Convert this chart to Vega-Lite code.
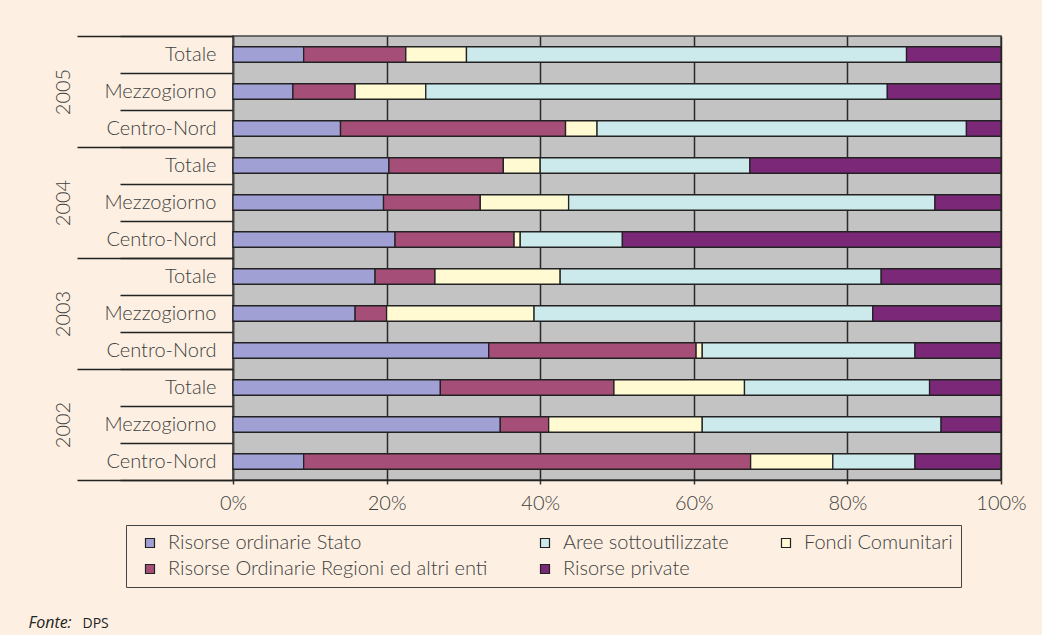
{
  "$schema": "https://vega.github.io/schema/vega-lite/v6.json",
  "width": 768,
  "height": 444,
  "autosize": {"type": "none"},
  "padding": {"left": 233, "top": 36, "right": 41, "bottom": 155},
  "background": "#fdf0e2",
  "config": {
    "view": {"fill": "#c3c3c3", "stroke": "#444", "strokeWidth": 1.5},
    "font": "Lato"
  },
  "data": {
    "values": [
      {"anno": "2005", "riga": "2005|Totale", "serie": "Risorse ordinarie Stato", "ord": 1, "v": 9.2},
      {"anno": "2005", "riga": "2005|Totale", "serie": "Risorse Ordinarie Regioni ed altri enti", "ord": 2, "v": 13.3},
      {"anno": "2005", "riga": "2005|Totale", "serie": "Fondi Comunitari", "ord": 3, "v": 7.9},
      {"anno": "2005", "riga": "2005|Totale", "serie": "Aree sottoutilizzate", "ord": 4, "v": 57.3},
      {"anno": "2005", "riga": "2005|Totale", "serie": "Risorse private", "ord": 5, "v": 12.3},
      {"anno": "2005", "riga": "2005|Mezzogiorno", "serie": "Risorse ordinarie Stato", "ord": 1, "v": 7.8},
      {"anno": "2005", "riga": "2005|Mezzogiorno", "serie": "Risorse Ordinarie Regioni ed altri enti", "ord": 2, "v": 8.1},
      {"anno": "2005", "riga": "2005|Mezzogiorno", "serie": "Fondi Comunitari", "ord": 3, "v": 9.2},
      {"anno": "2005", "riga": "2005|Mezzogiorno", "serie": "Aree sottoutilizzate", "ord": 4, "v": 60.1},
      {"anno": "2005", "riga": "2005|Mezzogiorno", "serie": "Risorse private", "ord": 5, "v": 14.8},
      {"anno": "2005", "riga": "2005|Centro-Nord", "serie": "Risorse ordinarie Stato", "ord": 1, "v": 14.0},
      {"anno": "2005", "riga": "2005|Centro-Nord", "serie": "Risorse Ordinarie Regioni ed altri enti", "ord": 2, "v": 29.3},
      {"anno": "2005", "riga": "2005|Centro-Nord", "serie": "Fondi Comunitari", "ord": 3, "v": 4.1},
      {"anno": "2005", "riga": "2005|Centro-Nord", "serie": "Aree sottoutilizzate", "ord": 4, "v": 48.1},
      {"anno": "2005", "riga": "2005|Centro-Nord", "serie": "Risorse private", "ord": 5, "v": 4.5},
      {"anno": "2004", "riga": "2004|Totale", "serie": "Risorse ordinarie Stato", "ord": 1, "v": 20.3},
      {"anno": "2004", "riga": "2004|Totale", "serie": "Risorse Ordinarie Regioni ed altri enti", "ord": 2, "v": 14.9},
      {"anno": "2004", "riga": "2004|Totale", "serie": "Fondi Comunitari", "ord": 3, "v": 4.8},
      {"anno": "2004", "riga": "2004|Totale", "serie": "Aree sottoutilizzate", "ord": 4, "v": 27.3},
      {"anno": "2004", "riga": "2004|Totale", "serie": "Risorse private", "ord": 5, "v": 32.7},
      {"anno": "2004", "riga": "2004|Mezzogiorno", "serie": "Risorse ordinarie Stato", "ord": 1, "v": 19.6},
      {"anno": "2004", "riga": "2004|Mezzogiorno", "serie": "Risorse Ordinarie Regioni ed altri enti", "ord": 2, "v": 12.6},
      {"anno": "2004", "riga": "2004|Mezzogiorno", "serie": "Fondi Comunitari", "ord": 3, "v": 11.5},
      {"anno": "2004", "riga": "2004|Mezzogiorno", "serie": "Aree sottoutilizzate", "ord": 4, "v": 47.7},
      {"anno": "2004", "riga": "2004|Mezzogiorno", "serie": "Risorse private", "ord": 5, "v": 8.6},
      {"anno": "2004", "riga": "2004|Centro-Nord", "serie": "Risorse ordinarie Stato", "ord": 1, "v": 21.1},
      {"anno": "2004", "riga": "2004|Centro-Nord", "serie": "Risorse Ordinarie Regioni ed altri enti", "ord": 2, "v": 15.5},
      {"anno": "2004", "riga": "2004|Centro-Nord", "serie": "Fondi Comunitari", "ord": 3, "v": 0.8},
      {"anno": "2004", "riga": "2004|Centro-Nord", "serie": "Aree sottoutilizzate", "ord": 4, "v": 13.3},
      {"anno": "2004", "riga": "2004|Centro-Nord", "serie": "Risorse private", "ord": 5, "v": 49.3},
      {"anno": "2003", "riga": "2003|Totale", "serie": "Risorse ordinarie Stato", "ord": 1, "v": 18.5},
      {"anno": "2003", "riga": "2003|Totale", "serie": "Risorse Ordinarie Regioni ed altri enti", "ord": 2, "v": 7.8},
      {"anno": "2003", "riga": "2003|Totale", "serie": "Fondi Comunitari", "ord": 3, "v": 16.3},
      {"anno": "2003", "riga": "2003|Totale", "serie": "Aree sottoutilizzate", "ord": 4, "v": 41.8},
      {"anno": "2003", "riga": "2003|Totale", "serie": "Risorse private", "ord": 5, "v": 15.6},
      {"anno": "2003", "riga": "2003|Mezzogiorno", "serie": "Risorse ordinarie Stato", "ord": 1, "v": 15.9},
      {"anno": "2003", "riga": "2003|Mezzogiorno", "serie": "Risorse Ordinarie Regioni ed altri enti", "ord": 2, "v": 4.1},
      {"anno": "2003", "riga": "2003|Mezzogiorno", "serie": "Fondi Comunitari", "ord": 3, "v": 19.2},
      {"anno": "2003", "riga": "2003|Mezzogiorno", "serie": "Aree sottoutilizzate", "ord": 4, "v": 44.1},
      {"anno": "2003", "riga": "2003|Mezzogiorno", "serie": "Risorse private", "ord": 5, "v": 16.7},
      {"anno": "2003", "riga": "2003|Centro-Nord", "serie": "Risorse ordinarie Stato", "ord": 1, "v": 33.3},
      {"anno": "2003", "riga": "2003|Centro-Nord", "serie": "Risorse Ordinarie Regioni ed altri enti", "ord": 2, "v": 27.0},
      {"anno": "2003", "riga": "2003|Centro-Nord", "serie": "Fondi Comunitari", "ord": 3, "v": 0.8},
      {"anno": "2003", "riga": "2003|Centro-Nord", "serie": "Aree sottoutilizzate", "ord": 4, "v": 27.7},
      {"anno": "2003", "riga": "2003|Centro-Nord", "serie": "Risorse private", "ord": 5, "v": 11.2},
      {"anno": "2002", "riga": "2002|Totale", "serie": "Risorse ordinarie Stato", "ord": 1, "v": 27.0},
      {"anno": "2002", "riga": "2002|Totale", "serie": "Risorse Ordinarie Regioni ed altri enti", "ord": 2, "v": 22.6},
      {"anno": "2002", "riga": "2002|Totale", "serie": "Fondi Comunitari", "ord": 3, "v": 17.0},
      {"anno": "2002", "riga": "2002|Totale", "serie": "Aree sottoutilizzate", "ord": 4, "v": 24.1},
      {"anno": "2002", "riga": "2002|Totale", "serie": "Risorse private", "ord": 5, "v": 9.3},
      {"anno": "2002", "riga": "2002|Mezzogiorno", "serie": "Risorse ordinarie Stato", "ord": 1, "v": 34.8},
      {"anno": "2002", "riga": "2002|Mezzogiorno", "serie": "Risorse Ordinarie Regioni ed altri enti", "ord": 2, "v": 6.3},
      {"anno": "2002", "riga": "2002|Mezzogiorno", "serie": "Fondi Comunitari", "ord": 3, "v": 20.0},
      {"anno": "2002", "riga": "2002|Mezzogiorno", "serie": "Aree sottoutilizzate", "ord": 4, "v": 31.1},
      {"anno": "2002", "riga": "2002|Mezzogiorno", "serie": "Risorse private", "ord": 5, "v": 7.8},
      {"anno": "2002", "riga": "2002|Centro-Nord", "serie": "Risorse ordinarie Stato", "ord": 1, "v": 9.2},
      {"anno": "2002", "riga": "2002|Centro-Nord", "serie": "Risorse Ordinarie Regioni ed altri enti", "ord": 2, "v": 58.2},
      {"anno": "2002", "riga": "2002|Centro-Nord", "serie": "Fondi Comunitari", "ord": 3, "v": 10.7},
      {"anno": "2002", "riga": "2002|Centro-Nord", "serie": "Aree sottoutilizzate", "ord": 4, "v": 10.7},
      {"anno": "2002", "riga": "2002|Centro-Nord", "serie": "Risorse private", "ord": 5, "v": 11.2}
    ]
  },
  "layer": [
    {
      "mark": {"type": "bar", "height": {"band": 0.42}, "stroke": "#222", "strokeWidth": 1.3},
      "encoding": {
        "y": {
          "field": "riga",
          "type": "nominal",
          "sort": ["2005|Totale", "2005|Mezzogiorno", "2005|Centro-Nord", "2004|Totale", "2004|Mezzogiorno", "2004|Centro-Nord", "2003|Totale", "2003|Mezzogiorno", "2003|Centro-Nord", "2002|Totale", "2002|Mezzogiorno", "2002|Centro-Nord"],
          "scale": {"paddingInner": 0, "paddingOuter": 0},
          "axis": {
            "title": null,
            "labelExpr": "split(datum.value, '|')[1]",
            "tickBand": "extent",
            "tickSize": 113,
            "tickColor": "#222",
            "tickWidth": 1.5,
            "labelPadding": -96,
            "labelFontSize": 20,
            "labelFont": "Lato",
            "labelFontWeight": 300,
            "labelColor": "#404040",
            "labelAlign": "right",
            "labelBaseline": "middle",
            "domainColor": "#444",
            "domainWidth": 1.5,
            "grid": false
          }
        },
        "x": {
          "field": "v",
          "type": "quantitative",
          "stack": "normalize",
          "scale": {"domain": [0, 1]},
          "axis": {
            "values": [0, 0.2, 0.4, 0.6, 0.8, 1],
            "format": ".0%",
            "grid": true,
            "gridColor": "#2a2a2a",
            "gridWidth": 1.5,
            "tickSize": 4,
            "tickColor": "#333",
            "tickWidth": 1.5,
            "domainColor": "#222",
            "domainWidth": 1.5,
            "labelFontSize": 20,
            "labelFont": "Lato",
            "labelFontWeight": 300,
            "labelColor": "#404040",
            "labelPadding": 9,
            "labelFlush": false,
            "title": "DPS",
            "titleX": -151,
            "titleY": 147,
            "titleAlign": "left",
            "titleBaseline": "alphabetic",
            "titleFontSize": 14,
            "titleFontWeight": "normal",
            "titleFont": "Open Sans",
            "titleColor": "#222"
          }
        },
        "color": {
          "field": "serie",
          "type": "nominal",
          "scale": {
            "domain": ["Risorse ordinarie Stato", "Risorse Ordinarie Regioni ed altri enti", "Aree sottoutilizzate", "Risorse private", "Fondi Comunitari"],
            "range": ["#a0a0d4", "#a54e78", "#cce9ec", "#7b2878", "#fffad2"]
          },
          "legend": {
            "title": " ",
            "titleOrient": "left",
            "titlePadding": 6,
            "titleFontSize": 19,
            "orient": "none",
            "legendX": -107,
            "legendY": 489,
            "columns": 3,
            "symbolType": "square",
            "symbolSize": 81,
            "symbolStrokeColor": "#222",
            "symbolStrokeWidth": 1.2,
            "labelFontSize": 20,
            "labelFont": "Lato",
            "labelFontWeight": 300,
            "labelColor": "#404040",
            "labelOffset": 8,
            "labelLimit": 400,
            "rowPadding": 6,
            "columnPadding": 47,
            "padding": 8,
            "strokeColor": "#444",
            "fillColor": "#fdf0e2"
          }
        },
        "order": {"field": "ord", "type": "quantitative"}
      }
    },
    {
      "mark": {"type": "tick", "opacity": 0},
      "encoding": {
        "y": {
          "field": "anno",
          "type": "nominal",
          "sort": ["2005", "2004", "2003", "2002"],
          "scale": {"paddingInner": 0, "paddingOuter": 0},
          "axis": {
            "orient": "left",
            "title": "Fonte:",
            "titleAngle": 0,
            "titleX": -205,
            "titleY": 591,
            "titleAlign": "left",
            "titleBaseline": "alphabetic",
            "titleFontSize": 16,
            "titleFontStyle": "italic",
            "titleFontWeight": "normal",
            "titleFont": "Open Sans",
            "titleColor": "#222",
            "tickBand": "extent",
            "tickSize": 156,
            "tickColor": "#222",
            "tickWidth": 1.5,
            "labelAngle": -90,
            "labelPadding": 14,
            "labelAlign": "center",
            "labelBaseline": "middle",
            "labelFontSize": 20,
            "labelFont": "Lato",
            "labelFontWeight": 300,
            "labelColor": "#404040",
            "domain": false,
            "grid": false
          }
        }
      }
    }
  ],
  "resolve": {"scale": {"y": "independent"}, "axis": {"y": "independent"}}
}
